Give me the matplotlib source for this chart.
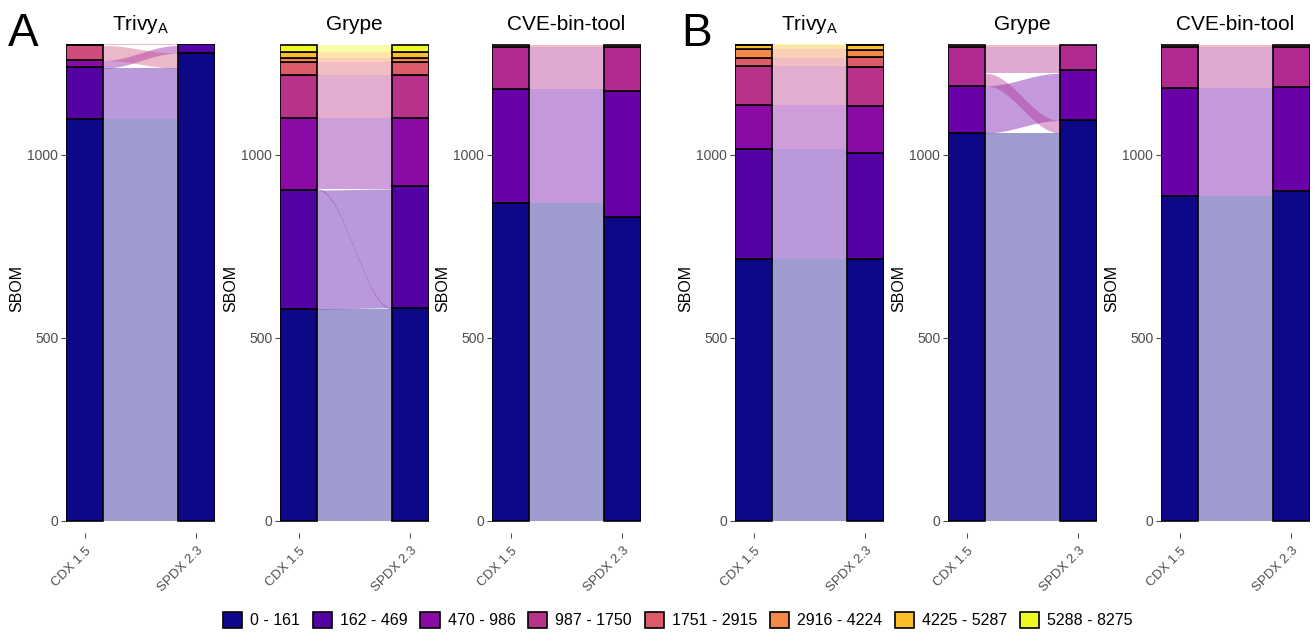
import numpy as np
import matplotlib.pyplot as plt
import matplotlib.transforms as mtransforms
from matplotlib.patches import Patch

plt.rcParams['font.family'] = ['Liberation Sans', 'DejaVu Sans']

# vulnerability-count classes (legend)
categories = ["0 - 161", "162 - 469", "470 - 986", "987 - 1750",
              "1751 - 2915", "2916 - 4224", "4225 - 5287", "5288 - 8275"]
formats = ["CDX 1.5", "SPDX 2.3"]

# flows (class in CDX 1.5, class in SPDX 2.3, number of SBOMs)
trivy_a_flows = [(0, 0, 1098), (1, 0, 139), (1, 1, 3), (2, 1, 18),
                 (3, 0, 41), (4, 1, 3)]
grype_a_flows = [(0, 0, 579), (1, 1, 325), (2, 0, 3), (2, 1, 8), (2, 2, 185),
                 (3, 3, 119), (4, 4, 34), (5, 5, 13), (6, 6, 14), (7, 7, 21)]
cve_a_flows = [(0, 0, 831), (0, 1, 38), (1, 1, 306), (1, 3, 5),
               (3, 3, 115), (4, 4, 5)]
trivy_b_flows = [(0, 0, 716), (1, 1, 290), (1, 2, 10), (2, 2, 118), (2, 3, 3),
                 (3, 3, 104), (3, 4, 2), (4, 4, 23), (5, 4, 2), (5, 5, 19),
                 (5, 6, 2), (6, 6, 10), (7, 7, 3)]
grype_b_flows = [(0, 0, 1060), (1, 1, 129), (3, 0, 34), (3, 1, 9),
                 (3, 3, 62), (4, 3, 6)]
cve_b_flows = [(0, 0, 888), (1, 0, 14), (1, 1, 280), (3, 1, 3),
               (3, 3, 109), (4, 4, 6)]

palette = [tuple(c) for c in plt.cm.plasma(np.linspace(0, 1, 8))]
alt_colors = {1: "#6a00a8", 3: "#b12a90"}


def draw_alluvial(fig, ax, flows, title, override=None):
    cols = list(palette)
    if override:
        for k, v in override.items():
            cols[k] = v
    left = np.zeros(8)
    right = np.zeros(8)
    for s, d, n in flows:
        left[s] += n
        right[d] += n
    lbase = np.concatenate([[0], np.cumsum(left)[:-1]])
    rbase = np.concatenate([[0], np.cumsum(right)[:-1]])

    # lodes: ordered by the class on the other axis
    lpos, rpos = {}, {}
    cur = lbase.copy()
    for s, d, n in sorted(flows, key=lambda f: (f[0], f[1])):
        lpos[(s, d)] = cur[s]
        cur[s] += n
    cur = rbase.copy()
    for s, d, n in sorted(flows, key=lambda f: (f[1], f[0])):
        rpos[(s, d)] = cur[d]
        cur[d] += n

    w = 1 / 3
    x0, x1 = 1 + w / 2, 2 - w / 2
    t = np.linspace(0, 1, 120)
    sm = (1 - np.cos(np.pi * t)) / 2
    xs = x0 + (x1 - x0) * t
    for s, d, n in flows:
        yb = lpos[(s, d)] + (rpos[(s, d)] - lpos[(s, d)]) * sm
        ax.fill_between(xs, yb, yb + n, color=cols[s], alpha=0.4, lw=0)

    for x, vals, base in [(1, left, lbase), (2, right, rbase)]:
        for c in range(8):
            if vals[c] > 0:
                ax.bar(x, vals[c], width=w, bottom=base[c], color=cols[c],
                       edgecolor='black', linewidth=1.2, zorder=3)

    ax.set_xlim(1 - w / 2, 2 + w / 2)
    ax.set_ylim(-33, 1303)
    ax.set_xticks([1, 2])
    ax.set_xticklabels(formats, rotation=45, ha='right', va='top',
                       rotation_mode='anchor', fontsize=9.5, color='#4d4d4d')
    shift = mtransforms.ScaledTranslation(-11 / 100, 0, fig.dpi_scale_trans)
    for lab in ax.get_xticklabels():
        lab.set_transform(lab.get_transform() + shift)
    ax.set_yticks([0, 500, 1000])
    ax.set_yticklabels(['0', '500', '1000'], fontsize=10, color='#4d4d4d')
    ax.tick_params(axis='both', length=3.5, width=0.8, color='#4d4d4d', pad=2)
    ax.tick_params(axis='x', pad=5)
    for sp in ax.spines.values():
        sp.set_visible(False)
    ax.set_ylabel('SBOM', fontsize=11.5, labelpad=2)
    ax.set_title(title, fontsize=15, pad=10)


fig = plt.figure(figsize=(13.14, 6.34), dpi=100)
W, H = 1314, 634
bottom = (H - 533) / H
height = 489 / H
lefts = [66, 280, 492, 735, 948, 1161]
panels = [
    (trivy_a_flows, r"Trivy$_\mathregular{A}$", {3: "#cf4c7c"}),
    (grype_a_flows, "Grype", None),
    (cve_a_flows, "CVE-bin-tool", alt_colors),
    (trivy_b_flows, r"Trivy$_\mathregular{A}$", None),
    (grype_b_flows, "Grype", alt_colors),
    (cve_b_flows, "CVE-bin-tool", alt_colors),
]
for lx, (flows, title, ov) in zip(lefts, panels):
    ax = fig.add_axes([lx / W, bottom, 149 / W, height])
    draw_alluvial(fig, ax, flows, title, ov)

fig.text(8 / W, 1 - 46 / H, "A", fontsize=33)
fig.text(681 / W, 1 - 46 / H, "B", fontsize=33)

handles = [Patch(facecolor=palette[i], edgecolor='black', linewidth=1.2)
           for i in range(8)]
fig.legend(handles, categories, loc='center', ncol=8,
           bbox_to_anchor=(678 / W, 1 - 620 / H), frameon=False, fontsize=11.5,
           handlelength=1.2, handleheight=1.2, handletextpad=0.5,
           columnspacing=0.8)

plt.savefig('out.png', dpi=100)
